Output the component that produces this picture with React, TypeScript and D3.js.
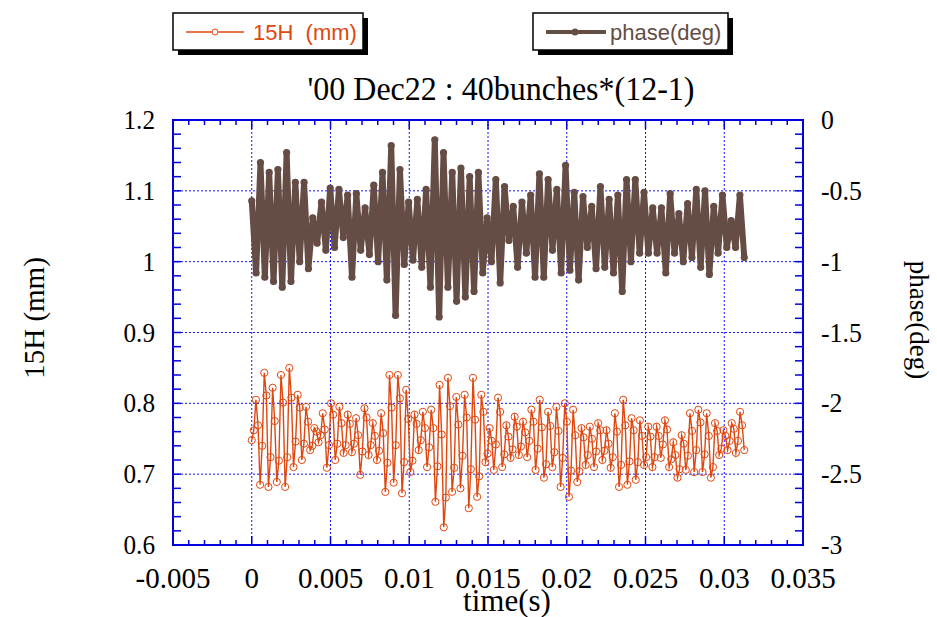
import React from "react";
import * as d3 from "d3";

// ---- data ----
const T_END = 0.03127; // last sample time (s)

// phase (deg), uniformly sampled from t=0 to T_END
const PHASE = [
  -0.57, -1.08, -0.3, -1.11, -0.37, -1.14, -0.35, -1.18, -0.23, -1.14, -0.44, -1.0, -0.44, -1.05, -0.69, -0.87,
  -0.58, -0.92, -0.48, -0.9, -0.49, -0.83, -0.53, -1.11, -0.52, -0.92, -0.62, -0.95, -0.46, -1.0, -0.37, -1.13,
  -0.18, -1.38, -0.35, -1.02,
  -0.58, -0.99, -0.56, -1.04, -0.49, -1.18, -0.14, -1.39, -0.23, -1.18, -0.37, -1.28, -0.34, -1.25, -0.4, -1.21,
  -0.37, -1.08, -0.69, -1.0, -0.42, -1.15, -0.47, -0.85, -0.61, -1.04, -0.58, -0.94, -0.53, -1.11, -0.38, -1.11,
  -0.42, -0.92, -0.49, -1.08, -0.32,
  -1.06, -0.51, -1.13, -0.54, -0.9, -0.61, -1.05, -0.47, -1.04, -0.56, -1.08, -0.53, -1.21, -0.42, -1.0, -0.42,
  -0.94, -0.51, -0.94, -0.62, -0.94, -0.62, -1.08, -0.52, -0.94, -0.66, -1.0, -0.59, -0.97, -0.49, -1.04, -0.5,
  -1.09, -0.61, -0.94, -0.53, -0.9, -0.71, -0.9, -0.53, -0.97,
];

// 15H (mm), uniformly sampled from t=0 to T_END
const H15 = [
  0.748, 0.762, 0.805, 0.769, 0.685, 0.74, 0.843, 0.811, 0.682, 0.724, 0.822, 0.775, 0.689, 0.719, 0.84, 0.801,
  0.682, 0.724, 0.85, 0.808, 0.71, 0.746, 0.812, 0.794, 0.72, 0.743, 0.795, 0.774, 0.734, 0.74, 0.765, 0.76,
  0.745, 0.755, 0.786, 0.763, 0.709, 0.741, 0.8, 0.784, 0.72, 0.743, 0.795, 0.772, 0.73, 0.741, 0.784, 0.771,
  0.731, 0.743, 0.779, 0.755, 0.699, 0.732, 0.793, 0.78, 0.727, 0.741, 0.772, 0.754, 0.72, 0.733, 0.786, 0.758,
  0.675, 0.716, 0.84, 0.794, 0.688, 0.741, 0.84, 0.807, 0.673, 0.717, 0.819, 0.778, 0.703, 0.719, 0.784, 0.771,
  0.734, 0.748, 0.788, 0.765, 0.71, 0.738, 0.791, 0.765, 0.661, 0.711, 0.826, 0.756, 0.625, 0.667, 0.836, 0.796,
  0.675, 0.709, 0.809, 0.77, 0.68, 0.726, 0.812, 0.78, 0.652, 0.707, 0.836, 0.777, 0.668, 0.697, 0.812, 0.788,
  0.717, 0.729, 0.765, 0.747, 0.706, 0.742, 0.808, 0.788, 0.71, 0.728, 0.769, 0.753, 0.723, 0.735, 0.781, 0.767,
  0.727, 0.739, 0.774, 0.759, 0.724, 0.747, 0.791, 0.774, 0.706, 0.736, 0.805, 0.766, 0.695, 0.714, 0.788, 0.768,
  0.71, 0.731, 0.795, 0.761, 0.682, 0.723, 0.8, 0.774, 0.668, 0.705, 0.791, 0.755, 0.689, 0.704, 0.765, 0.752,
  0.713, 0.727, 0.767, 0.75, 0.71, 0.732, 0.772, 0.762, 0.72, 0.733, 0.762, 0.743, 0.709, 0.724, 0.786, 0.76,
  0.682, 0.713, 0.805, 0.769, 0.685, 0.718, 0.779, 0.762, 0.692, 0.717, 0.776, 0.754, 0.713, 0.724, 0.767, 0.753,
  0.71, 0.724, 0.767, 0.754, 0.723, 0.742, 0.776, 0.763, 0.71, 0.721, 0.745, 0.727, 0.695, 0.707, 0.755, 0.743,
  0.706, 0.726, 0.786, 0.761, 0.703, 0.734, 0.791, 0.773, 0.703, 0.728, 0.786, 0.754, 0.695, 0.71, 0.772, 0.761,
  0.727, 0.736, 0.762, 0.754, 0.734, 0.747, 0.772, 0.764, 0.73, 0.747, 0.788, 0.769, 0.734,
];

const X_TICKS = [-0.005, 0, 0.005, 0.01, 0.015, 0.02, 0.025, 0.03, 0.035];
const YL_TICKS = [0.6, 0.7, 0.8, 0.9, 1, 1.1, 1.2];
const YR_TICKS = [-3, -2.5, -2, -1.5, -1, -0.5, 0];

const TITLE = "'00 Dec22 : 40bunches*(12-1)";
const X_LABEL = "time(s)";
const YL_LABEL = "15H (mm)";
const YR_LABEL = "phase(deg)";
const LEG_H15 = "15H  (mm)";
const LEG_PHASE = "phase(deg)";

// ---- styles ----
const W = 937;
const H = 617;
const M = { left: 173, right: 803, top: 120, bottom: 545 };
const BLUE = "#0000e0";
const GRID = "#1010ff";
const ORANGE = "#e0470f";
const BROWN = "#654c45";
const SERIF = "'Liberation Serif', 'Times New Roman', serif";
const SANS = "'Liberation Sans', Arial, sans-serif";

function CText({ x, y, anchor = "middle", size, children, rotate = 0, fill = "#000", family = SERIF, sx = 1 }: any) {
  return (
    <text
      transform={`translate(${x},${y}) rotate(${rotate}) scale(${sx},1)`}
      textAnchor={anchor}
      fontFamily={family}
      fontSize={size}
      fill={fill}
      style={{ whiteSpace: "pre" }}
    >
      {children}
    </text>
  );
}

export default function App() {
  const x = d3.scaleLinear().domain([-0.005, 0.035]).range([M.left, M.right]);
  const yL = d3.scaleLinear().domain([0.6, 1.2]).range([M.bottom, M.top]);
  const yR = d3.scaleLinear().domain([-3, 0]).range([M.bottom, M.top]);

  const phaseDt = T_END / (PHASE.length - 1);
  const h15Dt = T_END / (H15.length - 1);
  const phasePts = PHASE.map((v, i) => [x(i * phaseDt), yR(v)] as [number, number]);
  const h15Pts = H15.map((v, i) => [x(i * h15Dt), yL(v)] as [number, number]);
  const line = d3.line();

  const xMinor = d3.range(-0.005, 0.03501, 0.001);
  const yMinor = d3.range(0.6, 1.2001, 0.02);

  return (
    <svg width={W} height={H} style={{ display: "block", position: "absolute", left: 0, top: 0 }}>
      <rect width={W} height={H} fill="#fff" />

      {/* grid */}
      <g stroke={GRID} strokeWidth={1} strokeDasharray="2,2">
        {X_TICKS.slice(1, -1).map((t) => (
          <line key={"gx" + t} x1={x(t)} x2={x(t)} y1={M.top} y2={M.bottom} />
        ))}
        {YL_TICKS.slice(1, -1).map((t) => (
          <line key={"gy" + t} x1={M.left} x2={M.right} y1={yL(t)} y2={yL(t)} />
        ))}
      </g>

      {/* ticks */}
      <g stroke={BLUE} strokeWidth={1.5}>
        {xMinor.map((t, i) => {
          const major = i % 5 === 0;
          const len = major ? 9 : 5;
          return (
            <g key={"xt" + i}>
              <line x1={x(t)} x2={x(t)} y1={M.bottom} y2={M.bottom - len} />
              <line x1={x(t)} x2={x(t)} y1={M.top} y2={M.top + len} />
            </g>
          );
        })}
        {yMinor.map((t, i) => (
          <g key={"yt" + i}>
            <line x1={M.left} x2={M.left + 8} y1={yL(t)} y2={yL(t)} />
            <line x1={M.right} x2={M.right - 8} y1={yL(t)} y2={yL(t)} />
          </g>
        ))}
      </g>

      {/* frame */}
      <rect x={M.left} y={M.top} width={M.right - M.left} height={M.bottom - M.top} fill="none" stroke={BLUE} strokeWidth={2} />

      {/* phase series */}
      <path d={line(phasePts) || ""} fill="none" stroke={BROWN} strokeWidth={6} strokeLinejoin="round" />
      {phasePts.map((p, i) => (
        <circle key={"pp" + i} cx={p[0]} cy={p[1]} r={3.6} fill={BROWN} />
      ))}

      {/* 15H series */}
      <path
        d={line(h15Pts) || ""}
        fill="none"
        stroke={ORANGE}
        strokeWidth={1.4}
        strokeLinejoin="miter"
        strokeMiterlimit={8}
      />
      {h15Pts.map((p, i) => (
        <circle key={"hp" + i} cx={p[0]} cy={p[1]} r={3.6} fill="none" stroke={ORANGE} strokeWidth={1} />
      ))}

      {/* tick labels */}
      {X_TICKS.map((t) => (
        <CText key={"xl" + t} x={x(t)} y={588} size={29}>
          {t === 0 ? "0" : String(t)}
        </CText>
      ))}
      {YL_TICKS.map((t) => (
        <CText key={"yl" + t} x={155} y={yL(t) + 9} size={28} sx={0.9} anchor="end">
          {String(t)}
        </CText>
      ))}
      {YR_TICKS.map((t) => (
        <CText key={"yr" + t} x={821} y={yR(t) + 9} size={28} sx={0.92} anchor="start">
          {String(t)}
        </CText>
      ))}

      {/* axis titles */}
      <CText x={507} y={611} size={31}>{X_LABEL}</CText>
      <CText x={44} y={318} size={29} rotate={-90}>{YL_LABEL}</CText>
      <CText x={910} y={320} size={27} rotate={90}>{YR_LABEL}</CText>

      {/* title */}
      <CText x={501} y={100} size={33} sx={0.97}>{TITLE}</CText>

      {/* legends */}
      <rect x={178} y={18} width={190} height={37} fill="#000" />
      <rect x={173} y={13} width={190} height={37} fill="#fff" stroke="#000" strokeWidth={1.5} />
      <line x1={186} x2={244} y1={32} y2={32} stroke={ORANGE} strokeWidth={1.3} />
      <circle cx={215} cy={32} r={3} fill="#fff" stroke={ORANGE} strokeWidth={1} />
      <text x={253} y={40} fontFamily={SANS} fontSize={22} fill={ORANGE} style={{ whiteSpace: "pre" }}>
        {LEG_H15}
      </text>

      <rect x={538} y={18} width={195} height={37} fill="#000" />
      <rect x={533} y={13} width={195} height={37} fill="#fff" stroke="#000" strokeWidth={1.5} />
      <line x1={546} x2={606} y1={32} y2={32} stroke={BROWN} strokeWidth={4} />
      <circle cx={575} cy={32} r={3.5} fill={BROWN} />
      <text x={610} y={40} fontFamily={SANS} fontSize={22} fill={BROWN}>
        {LEG_PHASE}
      </text>
    </svg>
  );
}
